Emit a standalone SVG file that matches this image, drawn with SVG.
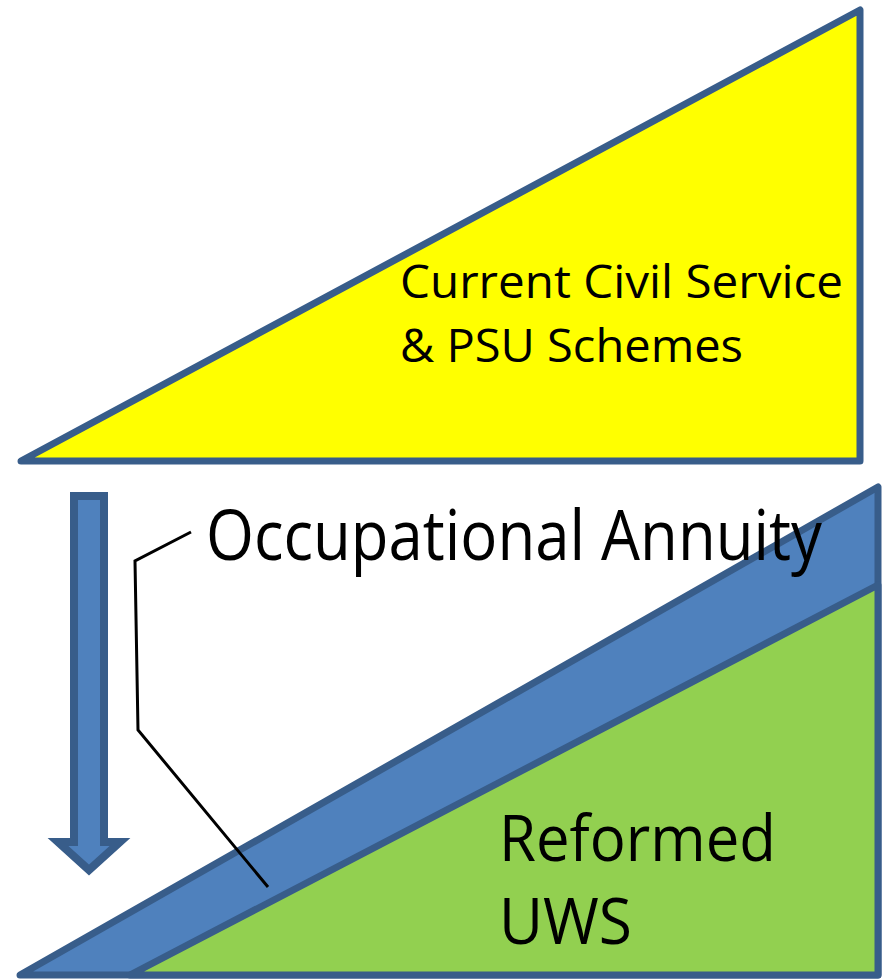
<svg xmlns="http://www.w3.org/2000/svg" width="883" height="980" viewBox="0 0 883 980">
<style>
.shape{stroke:#385D8A;stroke-width:7;stroke-linejoin:round}
.lbl{font-family:"Open Sans","Noto Sans","Liberation Sans",sans-serif;fill:#000}
</style>
<rect width="883" height="980" fill="#fff"/>
<g id="current-schemes">
<polygon class="shape" points="21,461 860,10 860,461" fill="#FFFF00"/>
<text class="lbl" x="400" y="298" font-size="46" textLength="443" lengthAdjust="spacingAndGlyphs">Current Civil Service</text>
<text class="lbl" x="400" y="362" font-size="46" textLength="343" lengthAdjust="spacingAndGlyphs">&amp; PSU Schemes</text>
</g>
<g id="down-arrow">
<path d="M74,496 L104,496 L104,842 L120,842 L89,870 L58,842 L74,842 Z" fill="#4F81BD" stroke="#385D8A" stroke-width="8" stroke-linejoin="miter" stroke-miterlimit="10"/>
</g>
<g id="occupational-annuity">
<polygon class="shape" points="20,975 878,487 878,975" fill="#4F81BD"/>
</g>
<g id="reformed-uws">
<polygon class="shape" points="130,975 878,585 878,975" fill="#92D050"/>
<text class="lbl" x="499" y="861" font-size="64" textLength="277" lengthAdjust="spacingAndGlyphs">Reformed</text>
<text class="lbl" x="499" y="944" font-size="64" textLength="133" lengthAdjust="spacingAndGlyphs">UWS</text>
</g>
<g id="connectors">
<polyline points="191,532 135,561 138,730 268,887" fill="none" stroke="#000" stroke-width="3" stroke-linejoin="miter"/>
</g>
<g id="annuity-label">
<text class="lbl" x="206" y="560" font-size="70" textLength="616" lengthAdjust="spacingAndGlyphs">Occupational Annuity</text>
</g>
</svg>
